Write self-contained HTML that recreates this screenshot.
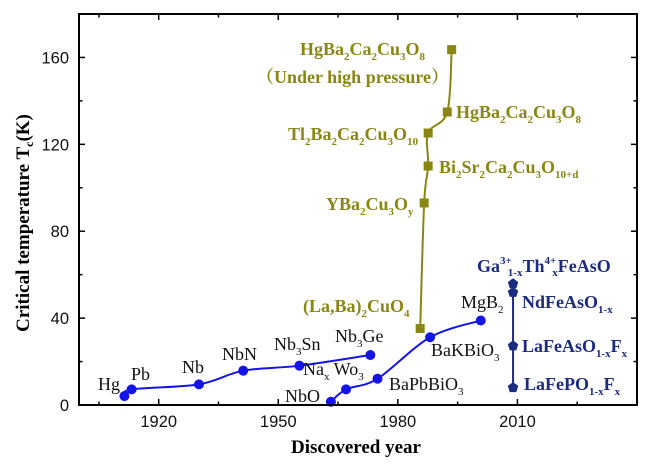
<!DOCTYPE html>
<html><head><meta charset="utf-8">
<style>
html,body{margin:0;padding:0;background:#fff;}
svg{display:block;}
.lab{font-family:"Liberation Serif",serif;font-size:18px;fill:#111;}
.ol{font-family:"Liberation Serif","Noto Serif CJK SC",serif;font-size:18px;font-weight:bold;fill:#8a8614;}
.fe{font-family:"Liberation Serif",serif;font-size:18px;font-weight:bold;fill:#1c2a80;}
.tick{font-family:"Liberation Sans",sans-serif;font-size:16.5px;fill:#111;}
.sub{font-size:11px;}
</style></head><body>
<svg id="chart" width="645" height="465">
<g id="marks"></g>
<g id="axes"></g>
<g>
<text class="ol" x="300" y="55">HgBa<tspan class="sub" dy="5">2</tspan><tspan dy="-5">Ca</tspan><tspan class="sub" dy="5">2</tspan><tspan dy="-5">Cu</tspan><tspan class="sub" dy="5">3</tspan><tspan dy="-5">O</tspan><tspan class="sub" dy="5">8</tspan></text>
<text class="ol" x="256" y="83">（Under high pressure）</text>
<text class="ol" x="456" y="118">HgBa<tspan class="sub" dy="5">2</tspan><tspan dy="-5">Ca</tspan><tspan class="sub" dy="5">2</tspan><tspan dy="-5">Cu</tspan><tspan class="sub" dy="5">3</tspan><tspan dy="-5">O</tspan><tspan class="sub" dy="5">8</tspan></text>
<text class="ol" x="288" y="140">Tl<tspan class="sub" dy="5">2</tspan><tspan dy="-5">Ba</tspan><tspan class="sub" dy="5">2</tspan><tspan dy="-5">Ca</tspan><tspan class="sub" dy="5">2</tspan><tspan dy="-5">Cu</tspan><tspan class="sub" dy="5">3</tspan><tspan dy="-5">O</tspan><tspan class="sub" dy="5">10</tspan></text>
<text class="ol" x="439" y="173">Bi<tspan class="sub" dy="5">2</tspan><tspan dy="-5">Sr</tspan><tspan class="sub" dy="5">2</tspan><tspan dy="-5">Ca</tspan><tspan class="sub" dy="5">2</tspan><tspan dy="-5">Cu</tspan><tspan class="sub" dy="5">3</tspan><tspan dy="-5">O</tspan><tspan class="sub" dy="5">10+d</tspan></text>
<text class="ol" x="326" y="210">YBa<tspan class="sub" dy="5">2</tspan><tspan dy="-5">Cu</tspan><tspan class="sub" dy="5">3</tspan><tspan dy="-5">O</tspan><tspan class="sub" dy="5">y</tspan></text>
<text class="ol" x="303" y="312">(La,Ba)<tspan class="sub" dy="5">2</tspan><tspan dy="-5">CuO</tspan><tspan class="sub" dy="5">4</tspan></text>
<text class="fe" x="477" y="272">Ga<tspan class="sub" dy="-8">3+</tspan><tspan class="sub" dy="12" dx="-4">1-x</tspan><tspan dy="-4">Th</tspan><tspan class="sub" dy="-8">4+</tspan><tspan class="sub" dy="12" dx="-4">x</tspan><tspan dy="-4">FeAsO</tspan></text>
<text class="fe" x="522" y="308">NdFeAsO<tspan class="sub" dy="5">1-x</tspan></text>
<text class="fe" x="522" y="352">LaFeAsO<tspan class="sub" dy="5">1-x</tspan><tspan dy="-5">F</tspan><tspan class="sub" dy="5">x</tspan></text>
<text class="fe" x="524" y="390">LaFePO<tspan class="sub" dy="5">1-x</tspan><tspan dy="-5">F</tspan><tspan class="sub" dy="5">x</tspan></text>
<text class="lab" x="98" y="390">Hg</text>
<text class="lab" x="131" y="380">Pb</text>
<text class="lab" x="182" y="373">Nb</text>
<text class="lab" x="222" y="360">NbN</text>
<text class="lab" x="274" y="350">Nb<tspan class="sub" dy="5">3</tspan><tspan dy="-5">Sn</tspan></text>
<text class="lab" x="335" y="342">Nb<tspan class="sub" dy="5">3</tspan><tspan dy="-5">Ge</tspan></text>
<text class="lab" x="461" y="308">MgB<tspan class="sub" dy="5">2</tspan></text>
<text class="lab" x="303" y="375">Na<tspan class="sub" dy="5">x</tspan><tspan dy="-5"> Wo</tspan><tspan class="sub" dy="5">3</tspan></text>
<text class="lab" x="431" y="356">BaKBiO<tspan class="sub" dy="5">3</tspan></text>
<text class="lab" x="389" y="390">BaPbBiO<tspan class="sub" dy="5">3</tspan></text>
<text class="lab" x="285" y="402">NbO</text>
</g>
<text x="356" y="453" text-anchor="middle" style="font-family:'Liberation Serif',serif;font-weight:bold;font-size:19px">Discovered year</text>
<text transform="translate(29,223) rotate(-90)" text-anchor="middle" style="font-family:'Liberation Serif',serif;font-weight:bold;font-size:19px">Critical temperature  T<tspan font-size="12" dy="4">c</tspan><tspan dy="-4">(K)</tspan></text>
</svg>
<script>
const convYears=[1911.4,1913.2,1930.1,1941.2,1955.3,1973.1];
const convTc=[4.1,7.2,9.5,15.8,18.1,23];
const oxYears=[1963.2,1967,1974.9,1988.1,2000.8];
const oxTc=[1.5,7.2,12.1,31.2,38.9];
const cupYears=[1985.6,1986.6,1987.6,1987.6,1992.4,1993.5];
const cupTc=[35.2,93,110,125.2,134.9,163.6];
const feYears=[2008.9,2008.9,2008.9,2008.9];
const feTc=[8,27.2,51.8,55.8];
const xTicks=[1920,1950,1980,2010];
const yTicks=[0,40,80,120,160];
const X0=79,X1=637,Y0=405,Y1=14,xmin=1900,xmax=2040,ymin=0,ymax=180;
function xs(v){return X0+(v-xmin)/(xmax-xmin)*(X1-X0);}
function ys(v){return Y0-(v-ymin)/(ymax-ymin)*(Y0-Y1);}
const NS="http://www.w3.org/2000/svg";
const marks=document.getElementById('marks'),axes=document.getElementById('axes');
function mk(t,a,p){const e=document.createElementNS(NS,t);for(const k in a)e.setAttribute(k,a[k]);p.appendChild(e);return e;}
function smooth(px,py){
  let d="M"+px[0]+","+py[0];
  for(let i=0;i<px.length-1;i++){
    const p0x=px[Math.max(0,i-1)],p0y=py[Math.max(0,i-1)],p3x=px[Math.min(px.length-1,i+2)],p3y=py[Math.min(px.length-1,i+2)];
    const c1x=px[i]+(px[i+1]-p0x)/6,c1y=py[i]+(py[i+1]-p0y)/6,c2x=px[i+1]-(p3x-px[i])/6,c2y=py[i+1]-(p3y-py[i])/6;
    d+=" C"+c1x+","+c1y+" "+c2x+","+c2y+" "+px[i+1]+","+py[i+1];
  }return d;}
function series(xv,yv,color,shape,name){
  const px=xv.map(xs),py=yv.map(ys);
  const l=mk('path',{d:smooth(px,py),fill:'none',stroke:color,'stroke-width':2},marks);
  
  
  for(let i=0;i<px.length;i++){
    let m;
    if(shape==='c')m=mk('circle',{cx:px[i],cy:py[i],r:5,fill:color},marks);
    else if(shape==='s')m=mk('rect',{x:px[i]-4.5,y:py[i]-4.5,width:9,height:9,fill:color},marks);
    else{let pts=[];for(let k=0;k<5;k++){const a=-Math.PI/2+k*2*Math.PI/5;pts.push((px[i]+5.5*Math.cos(a))+","+(py[i]+5.5*Math.sin(a)));}m=mk('polygon',{points:pts.join(' '),fill:color},marks);}
    
    
  }
}
series(convYears,convTc,'#1414e6','c','conventional-series');
series(oxYears,oxTc,'#1414e6','c','oxide-series');
series(cupYears,cupTc,'#8a8614','s','cuprate-series');
series(feYears,feTc,'#1c2a80','p','iron-series');
const fr=mk('rect',{x:X0,y:Y1,width:X1-X0,height:Y0-Y1,fill:'none',stroke:'#000','stroke-width':2},axes);


for(let v=1905;v<xmax;v+=15){const x=xs(v),L=(v-1920)%30===0?6:3.5;
  mk('line',{x1:x,y1:Y0,x2:x,y2:Y0-L,stroke:'#000','stroke-width':1.5},axes);
  mk('line',{x1:x,y1:Y1,x2:x,y2:Y1+L,stroke:'#000','stroke-width':1.5},axes);}
for(let v=20;v<ymax;v+=20){const y=ys(v),L=v%40===0?6:3.5;
  mk('line',{x1:X0,y1:y,x2:X0+L,y2:y,stroke:'#000','stroke-width':1.5},axes);
  mk('line',{x1:X1,y1:y,x2:X1-L,y2:y,stroke:'#000','stroke-width':1.5},axes);}
xTicks.forEach(v=>{const t=mk('text',{x:xs(v),y:427,'text-anchor':'middle',class:'tick'},axes);t.textContent=v;
  
  });
yTicks.forEach(v=>{const t=mk('text',{x:69,y:ys(v)+6,'text-anchor':'end',class:'tick'},axes);t.textContent=v;
  
  });
</script>
</body></html>
